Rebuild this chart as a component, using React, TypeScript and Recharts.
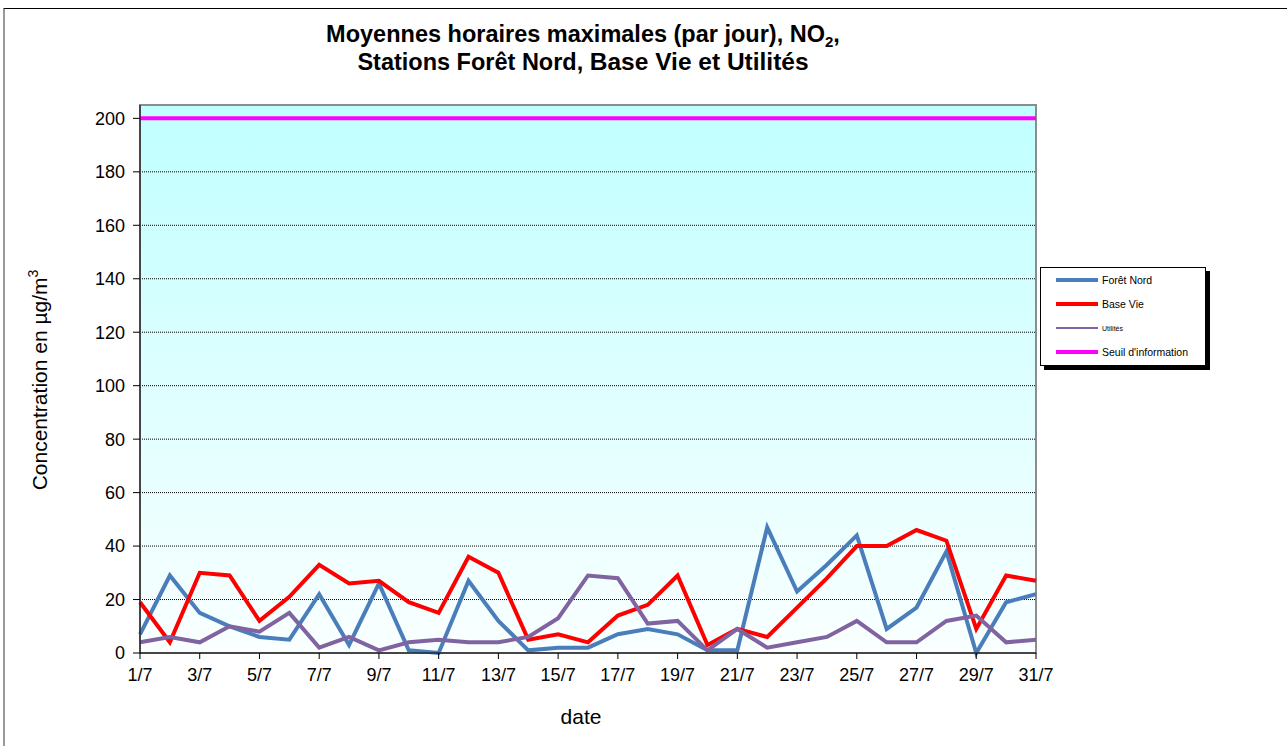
import React from "react";
import {
  LineChart,
  Line,
  XAxis,
  YAxis,
  CartesianGrid,
  ReferenceArea
} from "recharts";

const dates = [
  "1/7", "2/7", "3/7", "4/7", "5/7", "6/7", "7/7", "8/7", "9/7", "10/7",
  "11/7", "12/7", "13/7", "14/7", "15/7", "16/7", "17/7", "18/7", "19/7", "20/7",
  "21/7", "22/7", "23/7", "24/7", "25/7", "26/7", "27/7", "28/7", "29/7", "30/7", "31/7"
];

const foretNord = [
  7, 29, 15, 10, 6, 5, 22, 3, 26, 1,
  0, 27, 12, 1, 2, 2, 7, 9, 7, 1,
  1, 47, 23, 33, 44, 9, 17, 38, 0, 19, 22
];

const baseVie = [
  19, 4, 30, 29, 12, 21, 33, 26, 27, 19,
  15, 36, 30, 5, 7, 4, 14, 18, 29, 3,
  9, 6, 17, 28, 40, 40, 46, 42, 9, 29, 27
];

const utilites = [
  4, 6, 4, 10, 8, 15, 2, 6, 1, 4,
  5, 4, 4, 6, 13, 29, 28, 11, 12, 1,
  9, 2, 4, 6, 12, 4, 4, 12, 14, 4, 5
];

const seuil = dates.map(() => 200);

const yTicks = [0, 20, 40, 60, 80, 100, 120, 140, 160, 180, 200];

const data = dates.map((d, i) => ({
  date: d,
  foret: foretNord[i],
  base: baseVie[i],
  util: utilites[i],
  seuil: seuil[i]
}));

const legendItems = [
  { label: "Forêt Nord", color: "#4A7EBB", width: 4, size: 10.5 },
  { label: "Base Vie", color: "#FF0000", width: 4, size: 10.5 },
  { label: "Utilités", color: "#8064A2", width: 2, size: 7 },
  { label: "Seuil d'information", color: "#FF00FF", width: 4, size: 10.5 }
];

const FONT = "'Liberation Sans', Arial, sans-serif";

// legend drawn outside the chart so it doesn't eat plot space
const LegendBox = () => (
  <div
    style={{
      position: "absolute",
      left: 1040,
      top: 267,
      width: 166,
      height: 99,
      border: "1px solid #000",
      background: "#fff",
      boxShadow: "4px 4px 0 #000",
      fontFamily: FONT,
      boxSizing: "border-box",
      paddingTop: 0
    }}
  >
    {legendItems.map((it) => (
      <div key={it.label} style={{ display: "flex", alignItems: "center", height: 24 }}>
        <div style={{ marginLeft: 15, width: 42, height: it.width, background: it.color }} />
        <span style={{ marginLeft: 4, fontSize: it.size, color: "#000" }}>{it.label}</span>
      </div>
    ))}
  </div>
);

export default function App() {
  return (
    <div style={{ position: "absolute", left: 0, top: 0, width: 1287, height: 746, background: "#fff", overflow: "hidden" }}>
      <div
        style={{
          position: "absolute",
          left: 3,
          top: 8,
          width: 1300,
          height: 760,
          borderTop: "1px solid #000",
          borderLeft: "2px solid #999"
        }}
      />
      <div
        style={{
          position: "absolute",
          left: 0,
          top: 20,
          width: 1166,
          textAlign: "center",
          fontFamily: FONT,
          fontWeight: "bold",
          fontSize: 23.5,
          lineHeight: "28px",
          color: "#000"
        }}
      >
        <div>
          Moyennes horaires maximales (par jour), NO<sub style={{ fontSize: 15, verticalAlign: "-5px", lineHeight: 0 }}>2</sub>,
        </div>
        <div>
          Stations Forêt Nord, <span style={{ fontSize: 24.5 }}>Base Vie et Utilités</span>
        </div>
      </div>
      <div style={{ position: "absolute", left: 0, top: 0 }}>
        <LineChart
          width={1287}
          height={746}
          data={data}
          margin={{ top: 105, right: 251, left: 0, bottom: 0 }}
        >
          <defs>
            <linearGradient id="bgGrad" x1="0" y1="0" x2="0" y2="1">
              <stop offset="0%" stopColor="#C0FFFF" />
              <stop offset="100%" stopColor="#FAFFFF" />
            </linearGradient>
          </defs>
          <CartesianGrid
            vertical={false}
            stroke="#000"
            strokeDasharray="1 1"
            fill="url(#bgGrad)"
            fillOpacity={1}
          />
          <ReferenceArea y1={0} y2={205} fill="none" stroke="#8C8C8C" strokeWidth={2} ifOverflow="visible" />
          <XAxis
            dataKey="date"
            interval={1}
            stroke="#000"
            tickSize={6}
            tickMargin={9}
            tick={{ fontSize: 18, fill: "#000", fontFamily: FONT }}
            height={93}
            label={{
              content: () => (
                <text x={581} y={724} textAnchor="middle" fontSize={21} fontFamily={FONT} fill="#000">
                  date
                </text>
              )
            }}
          />
          <YAxis
            width={140}
            domain={[0, 205]}
            ticks={yTicks}
            interval={0}
            stroke="#000"
            tickSize={7}
            tickMargin={8}
            tick={{ fontSize: 18, fill: "#000", fontFamily: FONT }}
            label={{
              content: () => (
                <text
                  x={47}
                  y={380}
                  transform="rotate(-90 47 380)"
                  textAnchor="middle"
                  fontSize={21}
                  fontFamily={FONT}
                  fill="#000"
                >
                  Concentration en µg/m<tspan fontSize={14} dy={-9}>3</tspan>
                </text>
              )
            }}
          />
          <Line dataKey="foret" name="Forêt Nord" stroke="#4A7EBB" strokeWidth={4} dot={false} isAnimationActive={false} strokeLinejoin="miter" />
          <Line dataKey="base" name="Base Vie" stroke="#FF0000" strokeWidth={4} dot={false} isAnimationActive={false} strokeLinejoin="miter" />
          <Line dataKey="util" name="Utilités" stroke="#8064A2" strokeWidth={4} dot={false} isAnimationActive={false} strokeLinejoin="miter" />
          <Line dataKey="seuil" name="Seuil d'information" stroke="#FF00FF" strokeWidth={4} dot={false} isAnimationActive={false} />
        </LineChart>
      </div>
      <LegendBox />
    </div>
  );
}
